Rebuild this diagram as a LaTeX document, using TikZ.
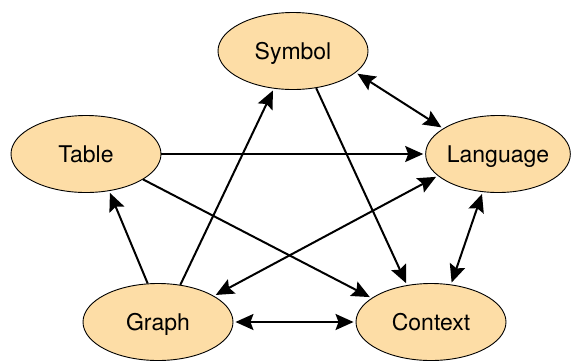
\documentclass[tikz,border=0pt]{standalone}
\usepackage{fontspec}
\setmainfont{TeX Gyre Heros}
\usetikzlibrary{shapes.geometric,arrows.meta}
\definecolor{nodefill}{RGB}{253,221,166}
\begin{document}
\begin{tikzpicture}[x=1pt,y=-1pt,
  concept/.style={ellipse,draw=black,line width=0.9pt,fill=nodefill,
    minimum width=150pt,minimum height=77pt,inner sep=0pt,
    font=\fontsize{23}{27}\selectfont,text height=16.5pt,text depth=0pt},
  link/.style={line width=2pt,shorten >=2pt},
  both/.style={link,shorten <=2pt,{Stealth[length=18pt,width=16pt,inset=3pt]}-{Stealth[length=18pt,width=16pt,inset=3pt]}},
  one/.style={link,-{Stealth[length=18pt,width=16pt,inset=3pt]}}]
\useasboundingbox (0,0) rectangle (571,360);

% concepts
\node[concept] (sym) at (293,51) {Symbol};
\node[concept] (tab) at (86,154) {Table};
\node[concept,minimum width=143pt] (lang) at (498,154) {Language};
\node[concept] (gra) at (158,322) {Graph};
\node[concept] (ctx) at (431,322) {Context};

% relations
\draw[both] (sym.-19) -- (lang.155);
\draw[one] (tab.0) -- (lang.180);
\draw[one] (tab.-24) -- (ctx.158);
\draw[one] (sym.-58) -- (ctx.123);
\draw[one] (gra.105) -- (tab.-58);
\draw[one] (gra.59) -- (sym.-117);
\draw[both] (gra.25) -- (lang.-160);
\draw[both] (gra.0) -- (ctx.180);
\draw[both] (lang.-112) -- (ctx.62);
\end{tikzpicture}
\end{document}
